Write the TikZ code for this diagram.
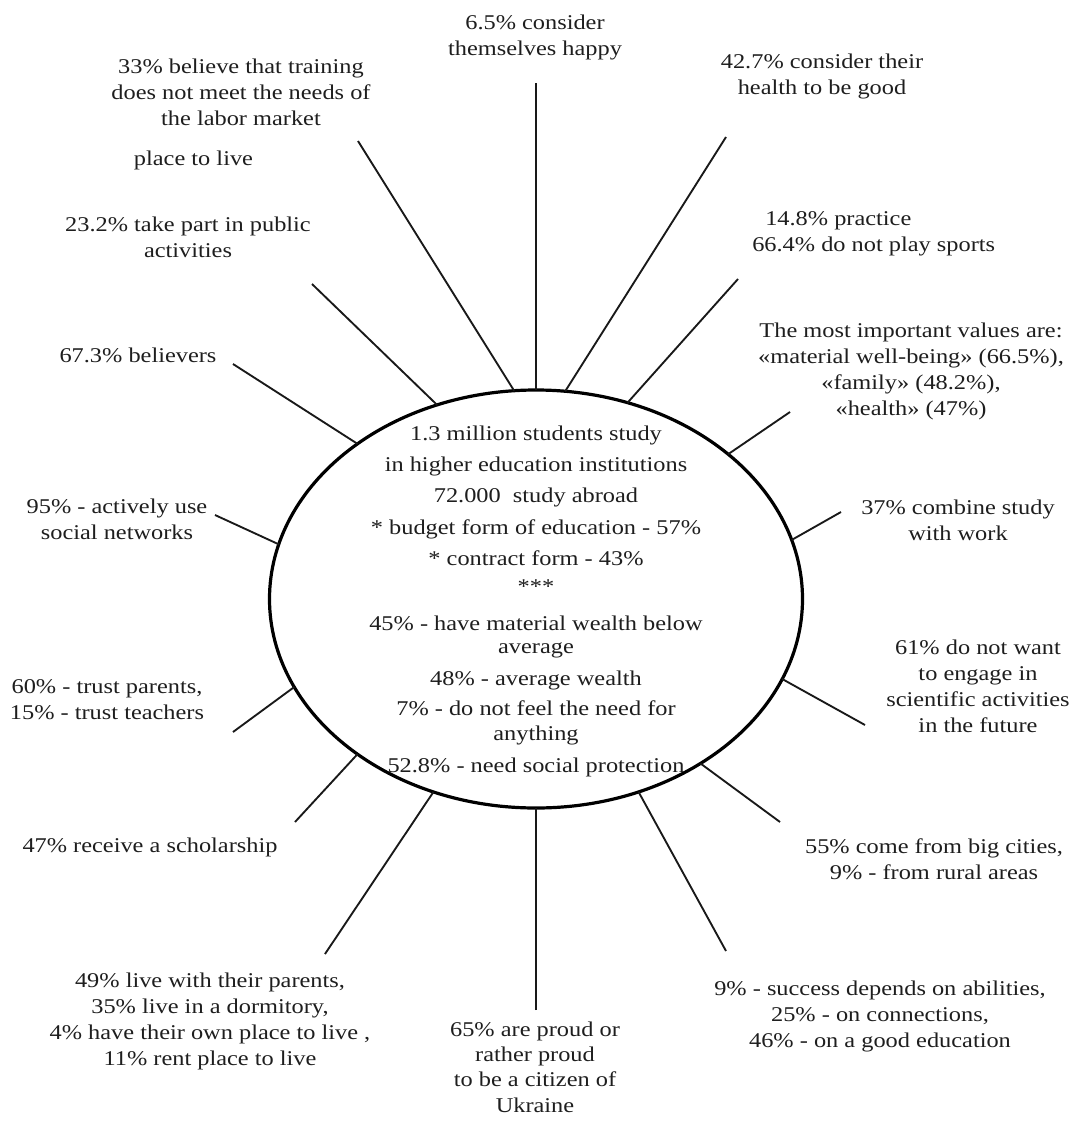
\documentclass[tikz,border=0pt]{standalone}
\usepackage{fontspec}
\setmainfont{Liberation Serif}[FakeStretch=1.16]
\usetikzlibrary{shapes.geometric}
\definecolor{txt}{HTML}{1E1E1E}
\begin{document}
\begin{tikzpicture}[x=0.75pt,y=-0.75pt,
  lbl/.style={align=center,font=\fontsize{15.75}{19.5}\selectfont,text=txt,inner sep=0pt},
  spoke/.style={line width=1.4pt,draw=black!90},
  hub/.style={ellipse,draw=black,line width=2.4pt,minimum width=399.75pt,minimum height=313.5pt,inner sep=0pt,outer sep=0pt}]
\useasboundingbox[fill=white] (0,0) rectangle (1071,1121);

% central ellipse
\node[hub] (E) at (536,599) {};
\node[lbl,font=\fontsize{15.75}{18}\selectfont] (C) at (536,601) {1.3 million students study\\[5.25pt]
in higher education institutions\\[5.25pt]
72.000\ \ study abroad\\[6pt]
* budget form of education - 57\%\\[5.25pt]
* contract form - 43\%\\[3pt]
***\\[9.75pt]
45\% - have material wealth below\\[-0.75pt]
average\\[6pt]
48\% - average wealth\\[4.5pt]
7\% - do not feel the need for\\[0.75pt]
anything\\[6pt]
52.8\% - need social protection};

% outer ends of spokes
\coordinate (o1) at (536,83);
\coordinate (o2) at (726,137);
\coordinate (o3) at (738,279);
\coordinate (o4) at (790,412);
\coordinate (o5) at (841,512);
\coordinate (o6) at (865,725);
\coordinate (o7) at (780,822);
\coordinate (o8) at (726,951);
\coordinate (o9) at (536,1010);
\coordinate (o10) at (325,954);
\coordinate (o11) at (295,822);
\coordinate (o12) at (233,732);
\coordinate (o13) at (215,515);
\coordinate (o14) at (233,364);
\coordinate (o15) at (312,284);
\coordinate (o16) at (358,141);

% spokes
\draw[spoke] (o1) -- (E.90);
\draw[spoke] (o2) -- (E.82.5);
\draw[spoke] (o3) -- (E.65.1);
\draw[spoke] (o4) -- (E.37.4);
\draw[spoke] (o5) -- (E.13.6);
\draw[spoke] (o6) -- (E.-18.3);
\draw[spoke] (o7) -- (E.-45.4);
\draw[spoke] (o8) -- (E.-62.5);
\draw[spoke] (o9) -- (E.-90);
\draw[spoke] (o10) -- (E.242.5);
\draw[spoke] (o11) -- (E.221);
\draw[spoke] (o12) -- (E.200.5);
\draw[spoke] (o13) -- (E.168.9);
\draw[spoke] (o14) -- (E.139.6);
\draw[spoke] (o15) -- (E.117.4);
\draw[spoke] (o16) -- (E.96.9);

% labels
\node[lbl] (t1) at (535,37.5) {6.5\% consider\\themselves happy};
\node[lbl] (t2) at (822,76.5) {42.7\% consider their\\health to be good};
\node[lbl,align=left,anchor=west] (t3) at (752,233.5) {\hspace*{9.75pt}14.8\% practice\\66.4\% do not play sports};
\node[lbl] (t4) at (911,371) {The most important values are:\\«material well-being» (66.5\%),\\«family» (48.2\%),\\«health» (47\%)};
\node[lbl] (t5) at (958,520) {37\% combine study\\with work};
\node[lbl] (t6) at (978,686) {61\% do not want\\to engage in\\scientific activities\\in the future};
\node[lbl] (t7) at (934,859.5) {55\% come from big cities,\\9\% - from rural areas};
\node[lbl] (t8) at (880,1016) {9\% - success depends on abilities,\\25\% - on connections,\\46\% - on a good education};
\node[lbl,font=\fontsize{15.75}{19}\selectfont] (t9) at (535,1067) {65\% are proud or\\rather proud\\to be a citizen of\\Ukraine};
\node[lbl] (t10) at (210,1021) {49\% live with their parents,\\35\% live in a dormitory,\\4\% have their own place to live ,\\11\% rent place to live};
\node[lbl] (t11) at (150,847) {47\% receive a scholarship};
\node[lbl] (t12) at (107,700) {60\% - trust parents,\\15\% - trust teachers};
\node[lbl] (t13) at (117,519) {95\% - actively use\\social networks};
\node[lbl] (t14) at (138,355) {67.3\% believers};
\node[lbl] (t15) at (188,237.5) {23.2\% take part in public\\activities};
\node[lbl] (t16) at (241,92.5) {33\% believe that training\\does not meet the needs of\\the labor market};
\node[lbl] (t17) at (193.5,160) {place to live};
\end{tikzpicture}
\end{document}
